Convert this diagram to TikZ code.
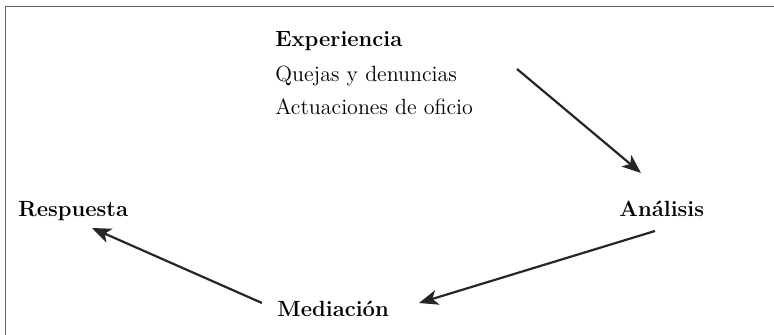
\documentclass[tikz,border=0pt]{standalone}
\usetikzlibrary{arrows.meta}
\begin{document}
\begin{tikzpicture}[x=0.5pt, y=-0.5pt,
        lbl/.style={anchor=base west, inner sep=0pt, font=\fontsize{11}{13}\selectfont},
        hd/.style={lbl, font=\fontsize{11}{13}\selectfont\bfseries},
        flow/.style={-{Stealth[length=9.5pt, width=7.5pt, inset=2.5pt]}, line width=1.1pt, black!85}]
    \useasboundingbox (0, 0) rectangle (774, 335);
    % marco
    \draw[black!60, line width=0.75pt] (5.5, 335) -- (5.5, 6.5) -- (774, 6.5);
    \node[hd] (exp) at (275, 46.7) {Experiencia};
    \node[lbl] (quej) at (275, 81.7) {Quejas y denuncias};
    \node[lbl] (act) at (275, 115) {Actuaciones de oficio};
    \node[hd] (ana) at (619, 216.7) {Análisis};
    \node[hd] (med) at (277, 316.7) {Mediación};
    \node[hd] (resp) at (18, 216.7) {Respuesta};
    % extremos de las flechas
    \coordinate (expout) at (517, 69);
    \coordinate (anain) at (641, 173);
    \coordinate (anaout) at (655, 231);
    \coordinate (medin) at (419, 303);
    \coordinate (medout) at (262, 303);
    \coordinate (respin) at (92, 228);
    \draw[flow] (expout) -- (anain);
    \draw[flow] (anaout) -- (medin);
    \draw[flow] (medout) -- (respin);
\end{tikzpicture}
\end{document}
